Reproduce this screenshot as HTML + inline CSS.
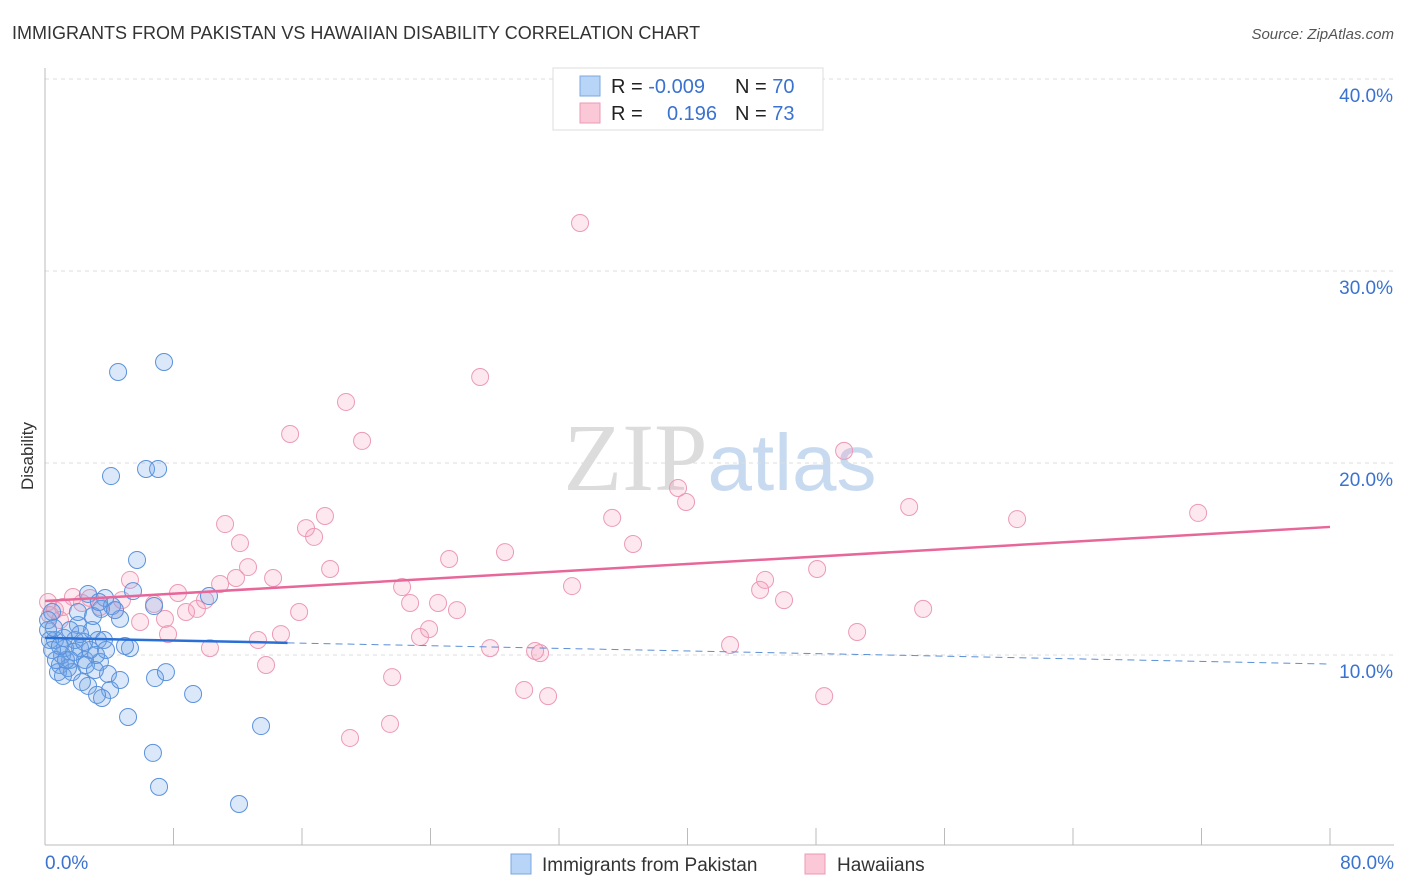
<!DOCTYPE html>
<html><head><meta charset="utf-8"><style>
body{margin:0;background:#fff;font-family:"Liberation Sans",sans-serif}
</style></head><body>
<svg id="c" width="1406" height="892" xmlns="http://www.w3.org/2000/svg" style="display:block">
<text x="12" y="39" font-size="18" fill="#333">IMMIGRANTS FROM PAKISTAN VS HAWAIIAN DISABILITY CORRELATION CHART</text>
<text x="1394" y="39" font-size="15" fill="#555" font-style="italic" text-anchor="end">Source: ZipAtlas.com</text>
<text x="720" y="490" font-size="96" text-anchor="middle"><tspan fill="#dcdcdc" font-family="Liberation Serif">ZIP</tspan><tspan fill="#c8daf0" font-size="80">atlas</tspan></text>
<g id="grid"></g>
<g id="axes"></g>
<text transform="translate(33,456) rotate(-90)" font-size="17" fill="#333" text-anchor="middle">Disability</text>
<g id="pts"></g>
<g id="trend"></g>
<g>
<rect x="553" y="68" width="270" height="62" fill="#fff" stroke="#ddd"/>
<rect x="580" y="76" width="20" height="20" fill="#b8d4f6" stroke="#7aa8e0"/>
<rect x="580" y="103" width="20" height="20" fill="#fbc8d8" stroke="#eb9ab5"/>
<text x="611" y="93" font-size="20" fill="#222">R = <tspan fill="#3a72d0">-0.009</tspan></text>
<text x="735" y="93" font-size="20" fill="#222">N = <tspan fill="#3a72d0">70</tspan></text>
<text x="611" y="120" font-size="20" fill="#222">R = </text>
<text x="717" y="120" font-size="20" fill="#3a72d0" text-anchor="end">0.196</text>
<text x="735" y="120" font-size="20" fill="#222">N = <tspan fill="#3a72d0">73</tspan></text>
</g>
<g>
<rect x="511" y="854" width="20" height="20" fill="#b8d4f6" stroke="#7aa8e0"/>
<text x="542" y="871" font-size="19" fill="#333">Immigrants from Pakistan</text>
<rect x="805" y="854" width="20" height="20" fill="#fbc8d8" stroke="#eb9ab5"/>
<text x="837" y="871" font-size="19" fill="#333">Hawaiians</text>
</g>
</svg>
<script>
const blueX=[4.55,7.41,4.11,6.29,7.04,5.73,2.68,3.74,3.49,5.48,6.79,10.21,4.67,0.44,0.19,0.62,1.25,2.05,2.93,3.30,2.18,1.56,0.93,2.49,3.42,0.81,1.68,3.92,2.68,4.05,4.67,3.55,5.17,6.72,7.10,12.08,13.45,9.22,6.85,7.53,5.29,4.98,3.18,1.06,0.31,1.87,2.80,1.18,3.67,2.30,3.24,2.55,3.11,3.80,0.44,1.56,0.19,2.05,1.43,0.68,2.99,4.17,1.31,1.81,2.43,0.93,3.36,4.36,2.18,1.12,0.56];
const blueY=[24.74,25.26,19.32,19.69,19.69,14.95,13.18,12.97,12.40,13.33,12.55,13.07,11.88,12.24,11.30,10.78,10.36,11.56,11.30,10.78,10.36,9.74,9.48,9.74,9.64,9.11,9.11,9.01,8.39,8.18,8.70,7.76,6.77,4.90,3.13,2.24,6.30,7.97,8.80,9.11,10.36,10.47,10.00,10.00,10.78,10.78,10.26,10.89,10.78,8.59,7.92,9.48,9.22,10.26,10.26,11.30,11.82,12.24,9.32,9.74,12.03,12.55,9.74,10.16,10.68,10.47,12.76,12.34,11.09,8.91,11.41];
const pinkX=[33.31,27.09,18.74,15.26,19.74,49.75,39.41,39.91,53.80,60.52,71.79,35.31,11.21,17.43,16.25,16.75,12.14,36.61,28.64,25.16,17.75,12.64,48.07,14.20,11.89,5.29,44.83,22.23,32.81,8.28,10.90,44.52,46.01,22.73,24.47,9.96,6.79,4.79,3.42,2.30,1.12,0.19,0.62,1.74,4.36,8.78,9.46,5.92,7.47,15.82,25.65,54.67,23.91,23.35,14.69,13.26,7.66,10.27,27.71,30.51,30.82,42.65,50.56,13.76,21.61,29.83,31.32,48.51,18.99,21.48,0.31,0.93,2.80];
const pinkY=[32.50,24.48,23.18,21.51,21.15,20.63,18.70,17.97,17.71,17.08,17.40,17.14,16.82,17.24,16.61,16.15,15.83,15.78,15.36,15.00,14.48,14.58,14.48,14.01,14.01,13.91,13.91,13.54,13.59,13.23,13.70,13.39,12.86,12.71,12.71,12.86,12.66,12.86,12.50,12.71,12.50,12.76,12.34,13.02,12.34,12.24,12.40,11.72,11.88,12.24,12.34,12.40,11.35,10.94,11.09,10.78,11.09,10.36,10.36,10.21,10.10,10.52,11.20,9.48,8.85,8.18,7.86,7.86,5.68,6.41,12.08,11.82,12.97];
const blueTrend=[10.89,9.53];
const pinkTrend=[12.81,16.67];
const yTicks=[10,20,30,40];
const yTickLabels=["10.0%","20.0%","30.0%","40.0%"];
const xTicks=[8,16,24,32,40,48,56,64,72,80];

const NS="http://www.w3.org/2000/svg";
const X=v=>45+v*16.0625, Y=v=>847-v*19.2;
function mk(t,a,p){const e=document.createElementNS(NS,t);for(const k in a)e.setAttribute(k,a[k]);p.appendChild(e);return e;}
const grid=document.getElementById('grid'),axes=document.getElementById('axes');
yTicks.forEach((t,i)=>{
  const l=mk('line',{x1:45,x2:1394,y1:Y(t),y2:Y(t),stroke:'#ddd','stroke-dasharray':'4,4'},grid);
  
  
  const tx=mk('text',{x:1393,y:Y(t)+23,'font-size':19,fill:'#3a72d0','text-anchor':'end'},axes);
  tx.textContent=yTickLabels[i];
  
  
});
mk('line',{x1:45,x2:45,y1:68,y2:845,stroke:'#bbb'},axes);
mk('line',{x1:45,x2:1394,y1:845,y2:845,stroke:'#bbb'},axes);
xTicks.forEach(t=>{
  const l=mk('line',{x1:X(t),x2:X(t),y1:828,y2:845,stroke:'#bbb'},axes);
  
  
});
const a=mk('text',{x:45,y:869,'font-size':19,fill:'#3a72d0'},axes);a.textContent="0.0%";

const b=mk('text',{x:1394,y:869,'font-size':19,fill:'#3a72d0','text-anchor':'end'},axes);b.textContent="80.0%";

const pts=document.getElementById('pts');
pinkX.forEach((x,i)=>{
  const c=mk('circle',{cx:X(x),cy:Y(pinkY[i]),r:8.5,fill:'rgba(245,150,180,0.22)',stroke:'#ec9ab6','stroke-width':1},pts);
  
  
});
blueX.forEach((x,i)=>{
  const c=mk('circle',{cx:X(x),cy:Y(blueY[i]),r:8.5,fill:'rgba(110,165,230,0.25)',stroke:'#5a92dc','stroke-width':1},pts);
  
  
});
const tr=document.getElementById('trend');
const bAt=v=>blueTrend[0]+(blueTrend[1]-blueTrend[0])*v/80;
let l1=mk('line',{x1:X(0),y1:Y(bAt(0)),x2:X(15.1),y2:Y(bAt(15.1)),stroke:'#2a6fd6','stroke-width':2.5},tr);


let l2=mk('line',{x1:X(15.1),y1:Y(bAt(15.1)),x2:X(80),y2:Y(bAt(80)),stroke:'#5a8fd8','stroke-width':1,'stroke-dasharray':'7,5'},tr);


let l3=mk('line',{x1:X(0),y1:Y(pinkTrend[0]),x2:X(80),y2:Y(pinkTrend[1]),stroke:'#e8679a','stroke-width':2.5},tr);


</script>
</body></html>
